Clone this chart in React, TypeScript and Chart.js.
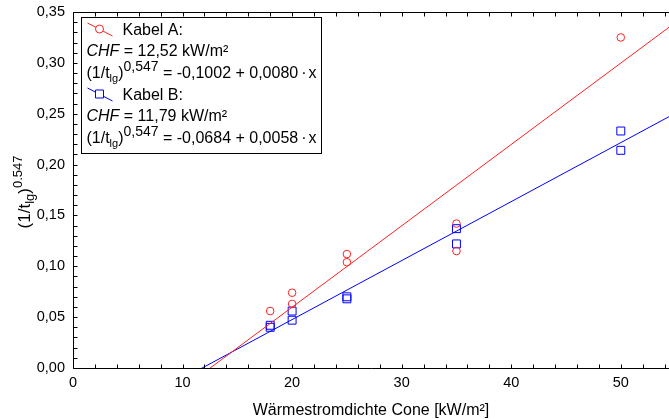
import { useEffect, useRef } from 'react';
import { Chart, registerables } from 'chart.js';
Chart.register(...registerables);

const FONT = '"Liberation Sans", Arial, sans-serif';

const xMin = 0;
const xMax = 54.4;
const yMin = 0;
const yMax = 0.35;
const xTickValues = [0, 10, 20, 30, 40, 50];
const yTickValues = [0, 0.05, 0.1, 0.15, 0.2, 0.25, 0.3, 0.35];

const redX = [18, 20, 20, 25, 25, 35, 35, 50];
const redY = [0.056, 0.063, 0.074, 0.104, 0.112, 0.115, 0.142, 0.325];
const blueX = [18, 18, 20, 20, 25, 25, 35, 35, 50, 50];
const blueY = [0.040, 0.042, 0.047, 0.056, 0.068, 0.070, 0.122, 0.137, 0.214, 0.233];
const fitAX = [12.3, 54.4];
const fitAY = [-0.0018, 0.335];
const fitBX = [11.6, 54.4];
const fitBY = [-0.0011, 0.2471];

const RED = '#ff2020';
const BLUE = '#0000ff';

const pts = (xs: number[], ys: number[]) => xs.map((x, i) => ({ x, y: ys[i] }));
const fmt = (v: number, d: number) => v.toFixed(d).replace('.', ',');

type Part = { t: string; size: number; dy?: number; italic?: boolean; gap?: number };

function drawRich(ctx: CanvasRenderingContext2D, x: number, y: number, parts: Part[]) {
  let cx = x;
  for (const p of parts) {
    ctx.font = `${p.italic ? 'italic ' : ''}${p.size}px ${FONT}`;
    ctx.fillText(p.t, cx, y + (p.dy || 0));
    cx += ctx.measureText(p.t).width + (p.gap || 0);
  }
  return cx - x;
}

const decor = {
  id: 'decor',
  afterDraw(chart: any) {
    const ctx: CanvasRenderingContext2D = chart.ctx;
    const { left, right, top, bottom } = chart.chartArea;
    const xs = chart.scales.x;
    const ys = chart.scales.y;
    ctx.save();
    ctx.strokeStyle = '#000';
    ctx.lineWidth = 1;
    const L = Math.round(left) + 0.5;
    const B = Math.round(bottom) + 0.5;
    const T = Math.round(top) + 0.5;
    ctx.beginPath();
    ctx.moveTo(L, T);
    ctx.lineTo(L, B);
    ctx.lineTo(right, B);
    ctx.moveTo(L, T);
    ctx.lineTo(right, T);
    for (let v = 0; v <= xMax; v += 2) {
      const p = Math.round(xs.getPixelForValue(v)) + 0.5;
      ctx.moveTo(p, B);
      ctx.lineTo(p, B - 4);
      ctx.moveTo(p, T);
      ctx.lineTo(p, T + 4);
    }
    for (let i = 0; i <= 35; i++) {
      const p = Math.round(ys.getPixelForValue(i / 100)) + 0.5;
      ctx.moveTo(L, p);
      ctx.lineTo(L + 4, p);
    }
    ctx.stroke();

    // Legend box
    const bx = left + 8.5, by = top + 5.5, bw = 240, bh = 136;
    ctx.fillStyle = '#fff';
    ctx.fillRect(bx, by, bw, bh);
    ctx.strokeRect(bx, by, bw, bh);

    const drawSym = (y0: number, color: string, shape: 'circle' | 'rect') => {
      ctx.strokeStyle = color;
      ctx.lineWidth = 1;
      ctx.beginPath();
      ctx.moveTo(bx + 6, y0 - 6);
      ctx.lineTo(bx + 31, y0 + 7);
      ctx.stroke();
      const cx = bx + 18, cy = y0;
      ctx.fillStyle = '#fff';
      ctx.beginPath();
      if (shape === 'circle') ctx.arc(cx, cy, 4, 0, Math.PI * 2);
      else ctx.rect(cx - 4, cy - 4, 8, 8);
      ctx.fill();
      ctx.stroke();
    };

    ctx.fillStyle = '#000';
    ctx.textBaseline = 'alphabetic';
    ctx.textAlign = 'left';
    const tx = bx + 5;
    const rows = [
      { color: RED, shape: 'circle' as const, name: 'Kabel A:', chf: '12,52', a: '-0,1002', b: '0,0080', base: top + 23 },
      { color: BLUE, shape: 'rect' as const, name: 'Kabel B:', chf: '11,79', a: '-0,0684', b: '0,0058', base: top + 88 },
    ];
    for (const r of rows) {
      drawSym(r.base - 6, r.color, r.shape);
      ctx.fillStyle = '#000';
      drawRich(ctx, bx + 41, r.base, [{ t: r.name, size: 16 }]);
      drawRich(ctx, tx, r.base + 21, [
        { t: 'CHF', size: 16, italic: true },
        { t: ' = ' + r.chf + ' kW/m²', size: 16 },
      ]);
      drawRich(ctx, tx, r.base + 43, [
        { t: '(1/t', size: 16 },
        { t: 'lg', size: 11, dy: 4 },
        { t: ')', size: 16 },
        { t: '0,547', size: 14, dy: -7 },
        { t: ' = ' + r.a + ' + ' + r.b, size: 16, gap: 3 },
        { t: '·', size: 16, gap: 2 },
        { t: 'x', size: 16 },
      ]);
    }

    // Axis titles
    ctx.fillStyle = '#000';
    ctx.font = `16px ${FONT}`;
    ctx.textAlign = 'center';
    ctx.fillText('Wärmestromdichte Cone [kW/m²]', (left + right) / 2, 415);

    ctx.save();
    const parts: Part[] = [
      { t: '(1/t', size: 17 },
      { t: 'lg', size: 13, dy: 4 },
      { t: ')', size: 17 },
      { t: '0.547', size: 13, dy: -8 },
    ];
    let total = 0;
    for (const p of parts) {
      ctx.font = `${p.size}px ${FONT}`;
      total += ctx.measureText(p.t).width;
    }
    ctx.translate(30, (top + bottom) / 2 + 2);
    ctx.rotate(-Math.PI / 2);
    ctx.textAlign = 'left';
    drawRich(ctx, -total / 2, 0, parts);
    ctx.restore();

    ctx.restore();
  },
};

export default function App() {
  const ref = useRef<HTMLCanvasElement>(null);
  useEffect(() => {
    document.body.style.margin = '0';
    const chart = new Chart(ref.current!, {
      type: 'scatter',
      data: {
        datasets: [
          {
            label: 'fitA',
            data: pts(fitAX, fitAY),
            showLine: true,
            borderColor: RED,
            borderWidth: 1,
            pointRadius: 0,
          },
          {
            label: 'fitB',
            data: pts(fitBX, fitBY),
            showLine: true,
            borderColor: BLUE,
            borderWidth: 1,
            pointRadius: 0,
          },
          {
            label: 'Kabel A',
            data: pts(redX, redY),
            pointStyle: 'circle',
            pointRadius: 3.8,
            borderColor: RED,
            backgroundColor: 'rgba(0,0,0,0)',
            borderWidth: 1,
          },
          {
            label: 'Kabel B',
            data: pts(blueX, blueY),
            pointStyle: 'rect',
            pointRadius: 5.6,
            borderColor: BLUE,
            backgroundColor: 'rgba(0,0,0,0)',
            borderWidth: 1,
          },
        ],
      },
      options: {
        animation: false,
        responsive: false,
        maintainAspectRatio: false,
        layout: { autoPadding: false, padding: { left: 0, right: 0, top: 12, bottom: 0 } },
        plugins: { legend: { display: false }, tooltip: { enabled: false } },
        scales: {
          x: {
            type: 'linear',
            min: xMin,
            max: xMax,
            grid: { display: false, drawTicks: false },
            border: { display: false },
            afterBuildTicks: (s: any) => {
              s.ticks = xTickValues.map((v) => ({ value: v }));
            },
            afterFit: (s: any) => {
              s.height = 51;
              s.paddingLeft = 0;
              s.paddingRight = 0;
            },
            ticks: {
              autoSkip: false,
              maxRotation: 0,
              padding: 6,
              color: '#000',
              font: { family: FONT, size: 14.5 },
              callback: (v: any) => String(v),
            },
          },
          y: {
            type: 'linear',
            min: yMin,
            max: yMax,
            grid: { display: false, drawTicks: false },
            border: { display: false },
            afterBuildTicks: (s: any) => {
              s.ticks = yTickValues.map((v) => ({ value: v }));
            },
            afterFit: (s: any) => {
              s.width = 73;
              s.paddingTop = 0;
              s.paddingBottom = 0;
            },
            ticks: {
              autoSkip: false,
              padding: 8,
              color: '#000',
              font: { family: FONT, size: 14.5 },
              callback: (v: any) => fmt(Number(v), 2),
            },
          },
        },
      },
      plugins: [decor],
    });
    return () => chart.destroy();
  }, []);
  return (
    <div style={{ position: 'absolute', left: 0, top: 0, width: 669, height: 419 }}>
      <canvas ref={ref} width={669} height={419} style={{ display: 'block' }} />
    </div>
  );
}
